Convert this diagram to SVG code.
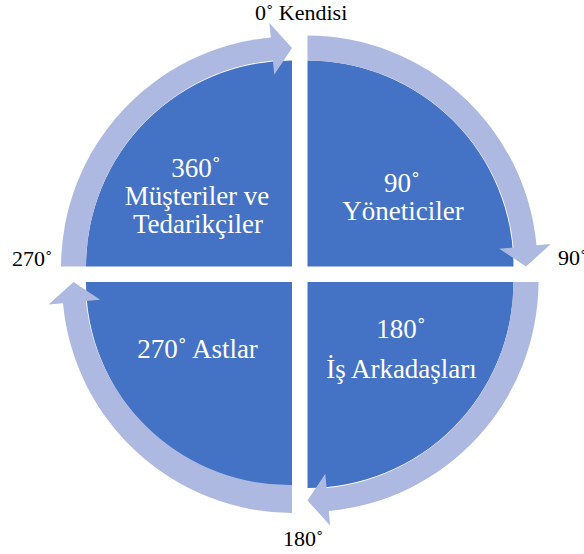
<svg xmlns="http://www.w3.org/2000/svg" width="584" height="554" viewBox="0 0 584 554">
<style>
.q{fill:#4472C4}
.a{fill:#ADB9E0}
.t{font-family:'Liberation Serif','Times New Roman','DejaVu Serif',serif;font-size:27px;fill:#FFFFFF;text-anchor:middle}
.o{font-family:'Liberation Serif','Times New Roman','DejaVu Serif',serif;font-size:22px;fill:#000000}
</style>
<rect width="584" height="554" fill="#FFFFFF"/>
<g id="node-360">
<path class="q" d="M292,266.5 L86,266.5 A206,206 0 0 1 292,60.5 Z"/>
<text class="t" x="196" y="176.7">360˚</text>
<text class="t" x="197" y="205">Müşteriler ve</text>
<text class="t" x="198" y="233.3">Tedarikçiler</text>
</g>
<g id="node-90">
<path class="q" d="M307.5,266.5 L307.5,60.5 A206,206 0 0 1 513.5,266.5 Z"/>
<text class="t" x="402" y="191.7">90˚</text>
<text class="t" x="403" y="220">Yöneticiler</text>
</g>
<g id="node-180">
<path class="q" d="M307.5,282 L513.5,282 A206,206 0 0 1 307.5,488 Z"/>
<text class="t" x="401" y="338">180˚</text>
<text class="t" x="401.5" y="378">İş Arkadaşları</text>
</g>
<g id="node-270">
<path class="q" d="M292,282 L292,488 A206,206 0 0 1 86,282 Z"/>
<text class="t" x="197.5" y="358.3">270˚ Astlar</text>
</g>
<g id="connectors">
<path class="a" d="M61,266.5 A231,231 0 0 1 270.75,37.5 L269.4,23.1 L292,48 L274.2,74.8 L272.9,60.4 A207,207 0 0 0 86,266.5 Z"/>
<path class="a" d="M307.5,35.5 A231,231 0 0 1 536.5,245.25 L550.9,243.9 L526,266.5 L499.2,248.7 L513.6,247.4 A207,207 0 0 0 307.5,60.5 Z"/>
<path class="a" d="M538.5,282 A231,231 0 0 1 328.75,511 L330.1,525.4 L307.5,500.5 L325.3,473.7 L326.6,488.1 A207,207 0 0 0 513.5,282 Z"/>
<path class="a" d="M292,513 A231,231 0 0 1 63,303.25 L48.6,304.6 L73.5,282 L100.3,299.8 L85.9,301.1 A205,205 0 0 0 292,485 Z"/>
</g>
<g id="labels">
<text class="o" x="255" y="20">0˚ Kendisi</text>
<text class="o" x="558" y="265">90˚</text>
<text class="o" x="12" y="265.5">270˚</text>
<text class="o" x="283" y="546">180˚</text>
</g>
</svg>
